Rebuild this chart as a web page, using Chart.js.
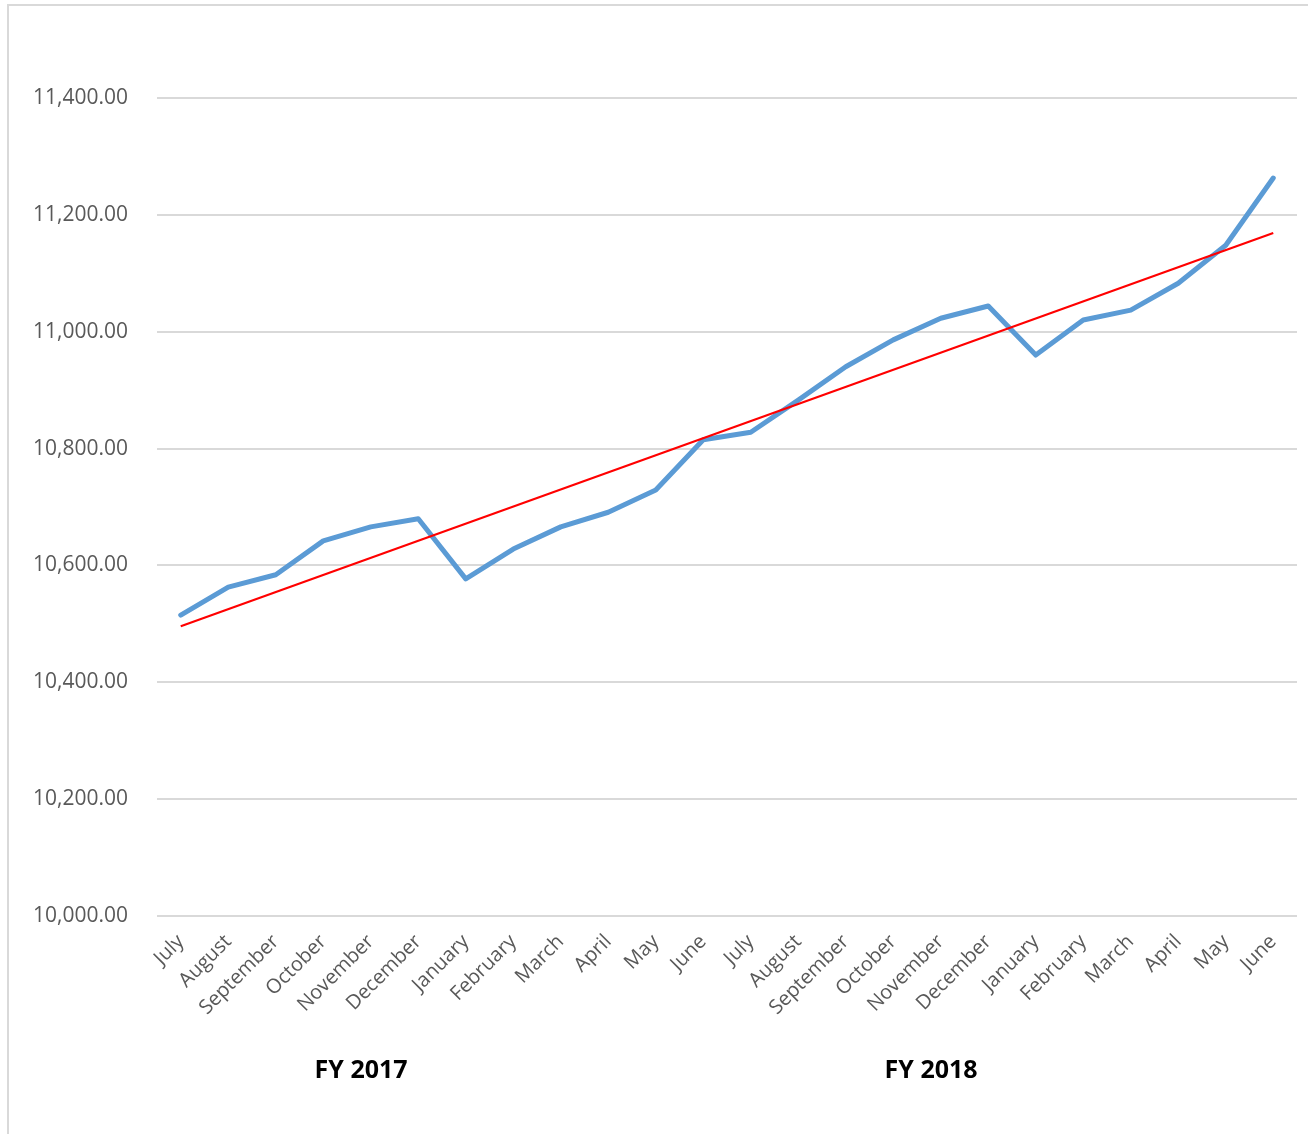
<!DOCTYPE html>
<html>
<head>
<meta charset="utf-8">
<script src="https://cdn.jsdelivr.net/npm/chart.js@4.4.1/dist/chart.umd.min.js"></script>
<style>
  html, body { margin: 0; padding: 0; background: #fff; }
  #wrap { position: relative; width: 1308px; height: 1134px; }
</style>
</head>
<body>
<div id="wrap"><canvas id="c" width="1308" height="1134"></canvas></div>
<script>
const categories = ['July','August','September','October','November','December','January','February','March','April','May','June',
                    'July','August','September','October','November','December','January','February','March','April','May','June'];
const groupLabels = ['FY 2017', 'FY 2018'];
const seriesValues = [10515, 10563, 10584, 10642, 10666, 10680, 10577, 10628, 10666, 10691, 10729, 10815,
                      10828, 10883, 10940, 10986, 11023, 11044, 10960, 11020, 11037, 11083, 11148, 11263];
const trendStart = 10496;
const trendEnd = 11169;
const yTicks = [10000, 10200, 10400, 10600, 10800, 11000, 11200, 11400];

const trendValues = categories.map((_, i) => i === 0 ? trendStart : (i === categories.length - 1 ? trendEnd : null));

const fontFamily = '"Open Sans", "Liberation Sans", sans-serif';

const decorPlugin = {
  id: 'decor',
  beforeDraw(chart) {
    const ctx = chart.ctx;
    ctx.save();
    ctx.strokeStyle = '#d9d9d9';
    ctx.lineWidth = 2;
    ctx.beginPath();
    ctx.moveTo(8, chart.height);
    ctx.lineTo(8, 5);
    ctx.lineTo(chart.width, 5);
    ctx.stroke();
    ctx.restore();
  },
  afterDraw(chart) {
    const ctx = chart.ctx;
    const a = chart.chartArea;
    const fr = [0.179, 0.679];
    ctx.save();
    ctx.fillStyle = '#000';
    ctx.font = 'bold 25px ' + fontFamily;
    ctx.textAlign = 'center';
    ctx.textBaseline = 'middle';
    groupLabels.forEach((g, i) => {
      ctx.fillText(g, a.left + fr[i] * (a.right - a.left), 1071);
    });
    ctx.restore();
  }
};

new Chart(document.getElementById('c'), {
  type: 'line',
  data: {
    labels: categories,
    datasets: [
      {
        label: 'Value',
        data: seriesValues,
        borderColor: '#5b9bd5',
        backgroundColor: '#5b9bd5',
        borderWidth: 5,
        pointRadius: 0,
        tension: 0,
        borderCapStyle: 'round',
        borderJoinStyle: 'round',
        order: 2
      },
      {
        label: 'Trend',
        data: trendValues,
        borderColor: '#ff0000',
        backgroundColor: '#ff0000',
        borderWidth: 2.2,
        pointRadius: 0,
        spanGaps: true,
        tension: 0,
        order: 1
      }
    ]
  },
  options: {
    responsive: false,
    animation: false,
    devicePixelRatio: 1,
    layout: { padding: { top: 98, right: 11, left: 0, bottom: 0 } },
    plugins: { legend: { display: false }, tooltip: { enabled: false } },
    scales: {
      x: {
        type: 'category',
        offset: true,
        grid: { display: false, drawTicks: false },
        border: { display: false },
        ticks: {
          color: '#595959',
          font: { family: fontFamily, size: 20 },
          minRotation: 45,
          maxRotation: 45,
          padding: 14,
          autoSkip: false
        },
        afterFit(scale) { scale.height = 218; }
      },
      y: {
        min: 10000,
        max: 11400,
        afterBuildTicks(scale) { scale.ticks = yTicks.map(v => ({ value: v })); },
        grid: { color: '#d9d9d9', lineWidth: 2, drawTicks: false },
        border: { display: false },
        ticks: {
          color: '#595959',
          font: { family: fontFamily, size: 21 },
          padding: 29,
          callback: v => Number(v).toLocaleString('en-US', { minimumFractionDigits: 2, maximumFractionDigits: 2 })
        },
        afterFit(scale) { scale.width = 157; }
      }
    }
  },
  plugins: [decorPlugin]
});
</script>
</body>
</html>
